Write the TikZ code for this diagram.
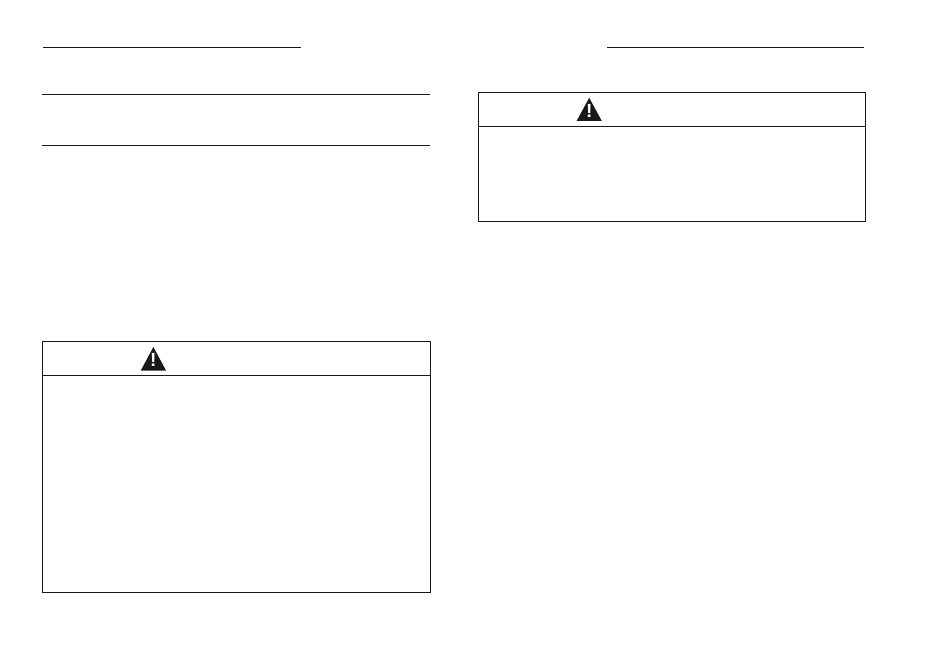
\documentclass[tikz,border=0pt]{standalone}
\usepackage{fontspec}
\setsansfont{Liberation Sans}
\usetikzlibrary{positioning}
\tikzset{
  rulefine/.style={line width=1pt, color=black!90},
  warnbox/.style={draw=black!90, line width=1pt, inner sep=0pt, outer sep=0pt, anchor=north west},
  warnsign/.style={fill=black!90},
  warnmark/.style={text=white, font=\sffamily\bfseries\fontsize{19}{19}\selectfont, inner sep=0pt}
}
\begin{document}
\begin{tikzpicture}[x=1pt, y=-1pt]
        \useasboundingbox (0,0) rectangle (950,652);
        % header and section rules
        \coordinate (head_l_a) at (43,47.5);
        \coordinate (head_l_b) at (300.5,47.5);
        \coordinate (head_r_a) at (607,47.5);
        \coordinate (head_r_b) at (864,47.5);
        \coordinate (sec_a) at (42,94.5);
        \coordinate (sec_b) at (429.5,94.5);
        \coordinate (sec_c) at (42,145.5);
        \coordinate (sec_d) at (429.5,145.5);
        \draw[rulefine] (head_l_a) -- (head_l_b);
        \draw[rulefine] (head_r_a) -- (head_r_b);
        \draw[rulefine] (sec_a) -- (sec_b);
        \draw[rulefine] (sec_c) -- (sec_d);

        % left warning box
        \node[warnbox, minimum width=388pt, minimum height=251pt] (box_l) at (42.5,341.5) {};
        \coordinate (div_l) at (42.5,375.3);
        \draw[rulefine] (div_l) -- (div_l -| box_l.east);
        \fill[warnsign] (153.4,347) -- (166,370.5) -- (140.8,370.5) -- cycle;
        \node[warnmark] (mark_l) at (153.4,360) {!};

        % right warning box
        \node[warnbox, minimum width=386.5pt, minimum height=129pt] (box_r) at (478.5,92.5) {};
        \coordinate (div_r) at (478.5,126.5);
        \draw[rulefine] (div_r) -- (div_r -| box_r.east);
        \fill[warnsign] (589.2,97.8) -- (601.8,121) -- (576.6,121) -- cycle;
        \node[warnmark] (mark_r) at (589.2,110.6) {!};
    \end{tikzpicture}
\end{document}
